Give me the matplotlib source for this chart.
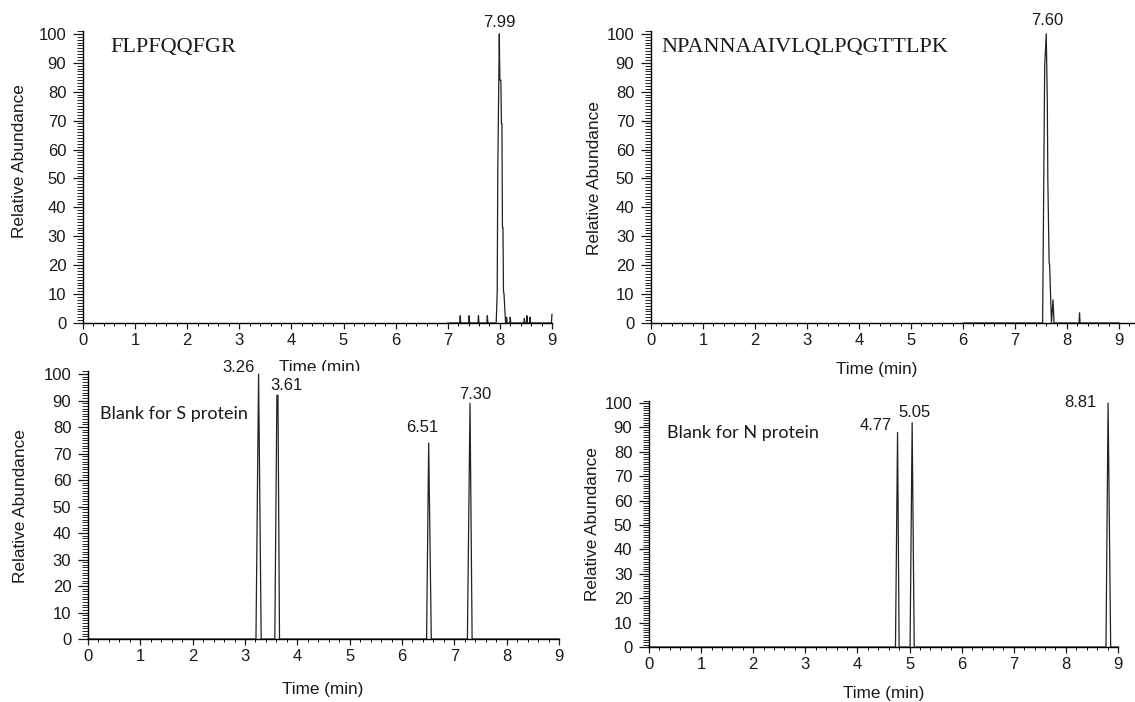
import matplotlib
matplotlib.use("Agg")
import matplotlib.pyplot as plt
from matplotlib.ticker import MultipleLocator

plt.rcParams['font.family'] = ['Liberation Sans', 'DejaVu Sans']

# === Datos de los cromatogramas (tiempo en min, abundancia relativa %) ===
s_time = [7.0, 7.23, 7.24, 7.25, 7.40, 7.41, 7.42, 7.58, 7.59, 7.60, 7.75, 7.76, 7.77,
          7.93, 7.95, 7.96, 7.99, 8.00, 8.02, 8.03, 8.04, 8.05, 8.06, 8.07, 8.08, 8.11,
          8.12, 8.13, 8.14, 8.19, 8.20, 8.21, 8.46, 8.47, 8.48, 8.51, 8.52, 8.53,
          8.57, 8.58, 8.59, 8.99, 9.0]
s_abund = [0, 0, 2.5, 0, 0, 2.5, 0, 0, 2.5, 0, 0, 2.5, 0,
           0, 11, 52, 100, 84, 84, 69, 69, 33, 33, 11, 10, 0,
           0, 2, 0, 0, 2, 0, 0, 1.5, 0, 0, 2.5, 0,
           0, 2, 0, 0, 3]

n_time = [6.0, 7.53, 7.57, 7.60, 7.62, 7.63, 7.655, 7.665, 7.70, 7.73, 7.75,
          8.23, 8.24, 8.25, 9.0]
n_abund = [0, 0, 89, 100, 77, 50, 21, 20, 0, 8, 0,
           0, 3.5, 0, 0]

blank_s_time = [0.0, 3.21, 3.26, 3.31, 3.57, 3.61, 3.63, 3.66,
                6.47, 6.51, 6.56, 7.25, 7.30, 7.34, 9.0]
blank_s_abund = [0, 0, 100, 0, 0, 92, 92, 0,
                 0, 74, 0, 0, 89, 0, 0]

blank_n_time = [0.0, 4.73, 4.77, 4.80, 5.01, 5.05, 5.09, 8.77, 8.81, 8.86, 9.0]
blank_n_abund = [0, 0, 88, 0, 0, 92, 0, 0, 100, 0, 0]

# etiquetas de picos: (texto, x, y)
s_peaks = [("7.99", 7.99, 104)]
n_peaks = [("7.60", 7.61, 104.5)]
blank_s_peaks = [("3.26", 2.87, 102.6), ("3.61", 3.80, 95.8),
                 ("6.51", 6.38, 80.0), ("7.30", 7.40, 92.4)]
blank_n_peaks = [("4.77", 4.36, 90.7), ("5.05", 5.09, 96.2), ("8.81", 8.27, 100.1)]

ink = '#1a1a1a'

fig = plt.figure(figsize=(11.35, 7.02), dpi=100)


def style_axes(ax, xmax, xlab_pos, ylab_pos):
    ax.set_xlim(0, xmax)
    ax.set_ylim(0, 101)
    for side in ['top', 'right']:
        ax.spines[side].set_visible(False)
    for side in ['left', 'bottom']:
        ax.spines[side].set_color('black')
        ax.spines[side].set_linewidth(1.0)
    ax.xaxis.set_major_locator(MultipleLocator(1))
    ax.xaxis.set_minor_locator(MultipleLocator(0.2))
    ax.yaxis.set_major_locator(MultipleLocator(10))
    ax.yaxis.set_minor_locator(MultipleLocator(1))
    ax.set_xticks(range(0, 10))
    ax.tick_params(axis='x', which='major', direction='out', length=4, width=0.9,
                   pad=3, labelsize=12, colors=ink)
    ax.tick_params(axis='x', which='minor', direction='out', length=2.5, width=0.7)
    ax.tick_params(axis='y', which='major', direction='out', length=7, width=0.9,
                   pad=5, labelsize=12, colors=ink)
    ax.tick_params(axis='y', which='minor', direction='out', length=4.5, width=0.6)
    ax.set_xlabel('Time (min)', fontsize=12.3, color=ink)
    ax.set_ylabel('Relative Abundance', fontsize=12.4, color=ink)
    ax.xaxis.set_label_coords(*xlab_pos)
    ax.yaxis.set_label_coords(*ylab_pos)
    ax.xaxis.label.set_verticalalignment('center')
    ax.yaxis.label.set_verticalalignment('center')


def draw_panel(rect, xmax, t, a, peaks, title, title_pos, title_font, xlab_pos, ylab_pos):
    ax = fig.add_axes(rect)
    ax.plot(t, a, color='#222222', lw=0.9, clip_on=False)
    for txt, x, y in peaks:
        ax.text(x, y, txt, ha='center', va='center', fontsize=12, color=ink,
                clip_on=False)
    ax.text(title_pos[0], title_pos[1], title, ha='left', va='center', color=ink,
            **title_font)
    style_axes(ax, xmax, xlab_pos, ylab_pos)
    return ax


serif = dict(fontsize=16, family=['Liberation Serif', 'DejaVu Serif'])
calib = dict(fontsize=13, family=['Lato', 'DejaVu Sans'])

draw_panel([0.0731, 0.5399, 0.4132, 0.416], 9, s_time, s_abund, s_peaks,
           'FLPFQQFGR', (0.52, 95.2), serif, (0.505, -0.154), (-0.136, 0.555))
draw_panel([0.5736, 0.5399, 0.4261, 0.416], 9.3, n_time, n_abund, n_peaks,
           'NPANNAAIVLQLPQGTTLPK', (0.2, 95.4), serif, (0.467, -0.158), (-0.116, 0.497))
draw_panel([0.0775, 0.0897, 0.415, 0.3812], 9, blank_s_time, blank_s_abund, blank_s_peaks,
           'Blank for S protein', (0.23, 85), calib, (0.498, -0.19), (-0.144, 0.498))
draw_panel([0.5718, 0.0783, 0.4132, 0.351], 9, blank_n_time, blank_n_abund, blank_n_peaks,
           'Blank for N protein', (0.34, 87.8), calib, (0.501, -0.187), (-0.1215, 0.499))

fig.savefig('out.png', dpi=100, facecolor='white')
